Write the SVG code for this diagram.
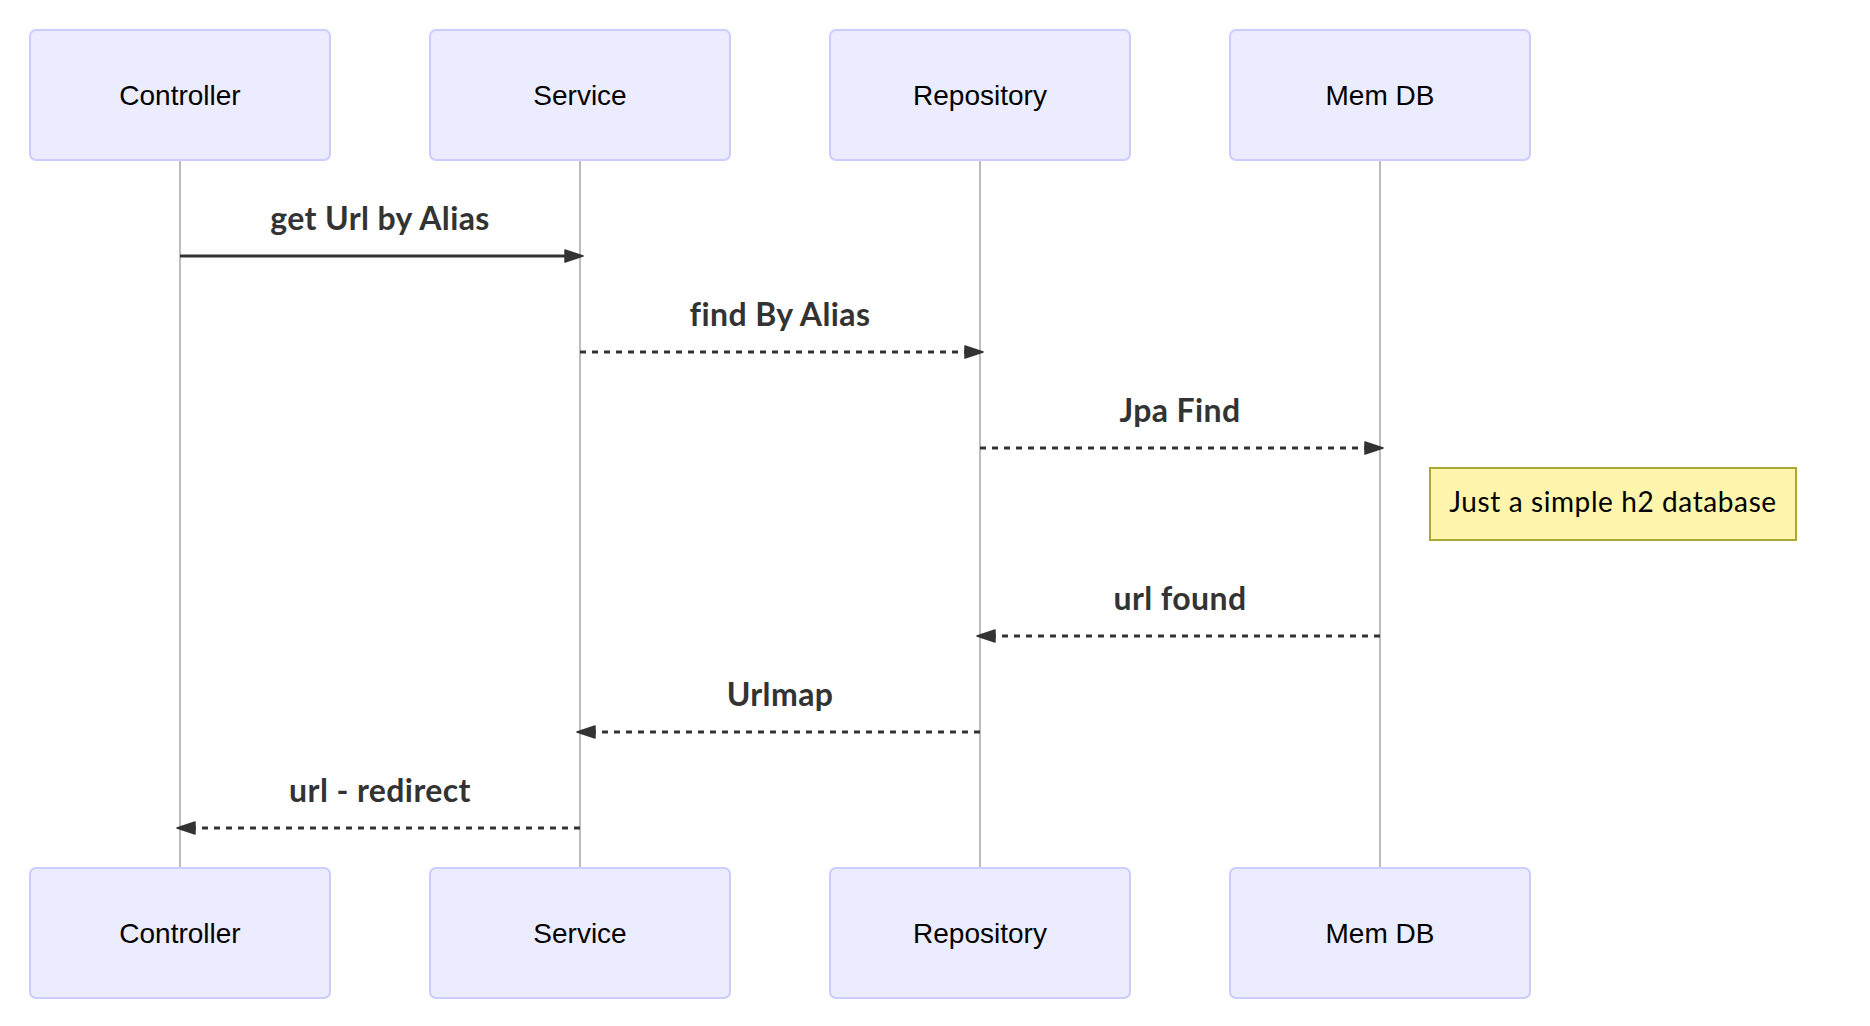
<svg xmlns="http://www.w3.org/2000/svg" width="1870" height="1026" viewBox="0 0 1870 1026">
  <style>
    .actor rect { fill: #ECECFF; stroke: #CCCCFF; stroke-width: 2; }
    .actor text { font-family: "Liberation Sans", Arial, sans-serif; font-size: 28px; fill: #000; text-anchor: middle; }
    .lifeline { stroke: #BDBDBD; stroke-width: 2; fill: none; }
    .msg { stroke: #333; stroke-width: 3; fill: none; marker-end: url(#arrowhead); }
    .dashed { stroke-dasharray: 6 6; }
    .label { font-family: Lato, "DejaVu Sans", sans-serif; font-weight: bold; font-size: 32px; fill: #333; text-anchor: middle; letter-spacing: 0.4px; }
    .note rect { fill: #FFF5AD; stroke: #AAAA33; stroke-width: 2; }
    .note text { font-family: Lato, "DejaVu Sans", sans-serif; font-size: 28px; fill: #000; text-anchor: middle; letter-spacing: 0.6px; }
  </style>
  <defs>
    <marker id="arrowhead" markerUnits="userSpaceOnUse" markerWidth="24" markerHeight="18" viewBox="-3 -3 24 18" refX="15" refY="6" orient="auto" overflow="visible">
      <path d="M0,0 L18,6 L0,12 z" fill="#333" stroke="#333" stroke-width="1.5" stroke-linejoin="round"/>
    </marker>
  </defs>
  <rect x="0" y="0" width="1870" height="1026" fill="#FFFFFF"/>

  <g id="lifelines">
    <line class="lifeline" x1="180" y1="160" x2="180" y2="868"/>
    <line class="lifeline" x1="580" y1="160" x2="580" y2="868"/>
    <line class="lifeline" x1="980" y1="160" x2="980" y2="868"/>
    <line class="lifeline" x1="1380" y1="160" x2="1380" y2="868"/>
  </g>

  <g id="actor-controller-top" class="actor">
    <rect x="30" y="30" width="300" height="130" rx="6" ry="6"/>
    <text x="180" y="105">Controller</text>
  </g>
  <g id="actor-service-top" class="actor">
    <rect x="430" y="30" width="300" height="130" rx="6" ry="6"/>
    <text x="580" y="105">Service</text>
  </g>
  <g id="actor-repository-top" class="actor">
    <rect x="830" y="30" width="300" height="130" rx="6" ry="6"/>
    <text x="980" y="105">Repository</text>
  </g>
  <g id="actor-memdb-top" class="actor">
    <rect x="1230" y="30" width="300" height="130" rx="6" ry="6"/>
    <text x="1380" y="105">Mem DB</text>
  </g>

  <g id="actor-controller-bottom" class="actor">
    <rect x="30" y="868" width="300" height="130" rx="6" ry="6"/>
    <text x="180" y="943">Controller</text>
  </g>
  <g id="actor-service-bottom" class="actor">
    <rect x="430" y="868" width="300" height="130" rx="6" ry="6"/>
    <text x="580" y="943">Service</text>
  </g>
  <g id="actor-repository-bottom" class="actor">
    <rect x="830" y="868" width="300" height="130" rx="6" ry="6"/>
    <text x="980" y="943">Repository</text>
  </g>
  <g id="actor-memdb-bottom" class="actor">
    <rect x="1230" y="868" width="300" height="130" rx="6" ry="6"/>
    <text x="1380" y="943">Mem DB</text>
  </g>

  <g id="connectors">
    <line class="msg" x1="180" y1="256" x2="580" y2="256"/>
    <text class="label" x="380" y="230">get Url by Alias</text>
    <line class="msg dashed" x1="580" y1="352" x2="980" y2="352"/>
    <text class="label" x="780" y="326">find By Alias</text>
    <line class="msg dashed" x1="980" y1="448" x2="1380" y2="448"/>
    <text class="label" x="1180" y="422">Jpa Find</text>
    <line class="msg dashed" x1="1380" y1="636" x2="980" y2="636"/>
    <text class="label" x="1180" y="610">url found</text>
    <line class="msg dashed" x1="980" y1="732" x2="580" y2="732"/>
    <text class="label" x="780" y="706">Urlmap</text>
    <line class="msg dashed" x1="580" y1="828" x2="180" y2="828"/>
    <text class="label" x="380" y="802">url - redirect</text>
  </g>

  <g id="note-memdb" class="note">
    <rect x="1430" y="468" width="366" height="72"/>
    <text x="1613" y="512">Just a simple h2 database</text>
  </g>
</svg>
